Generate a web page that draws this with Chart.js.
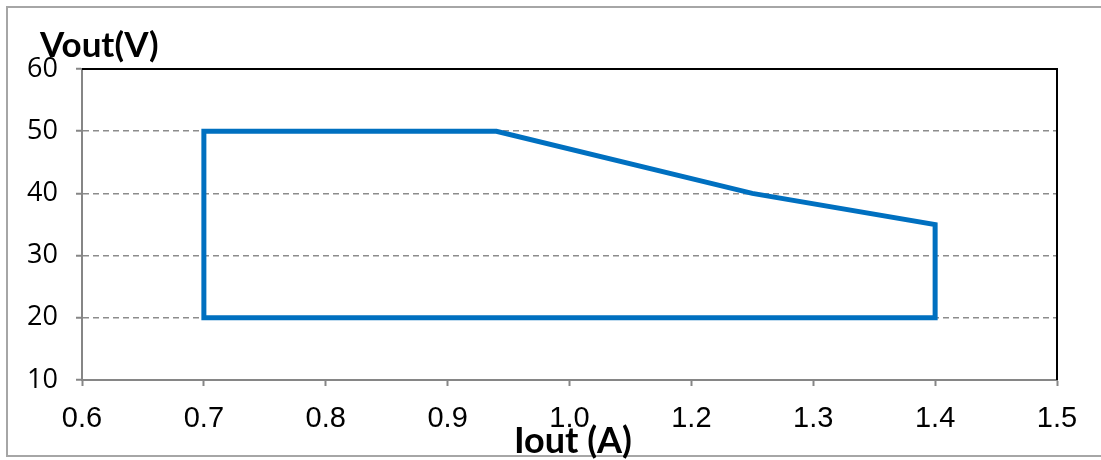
<!DOCTYPE html>
<html>
<head>
<meta charset="utf-8">
<script src="https://cdn.jsdelivr.net/npm/chart.js@4"></script>
<style>
  body { margin: 0; background: #fff; }
  canvas { display: block; }
</style>
</head>
<body>
<canvas id="chart" width="1101" height="460"></canvas>
<script>
// operating area outline, x in axis units (axis ticks are relabelled below)
const iout = [0.7, 0.7, 0.94, 1.15, 1.3, 1.3, 0.7];
const vout = [20, 50, 50, 40, 35, 20, 20];
const xTickLabels = ['0.6', '0.7', '0.8', '0.9', '1.0', '1.2', '1.3', '1.4', '1.5'];
const yTicks = [10, 20, 30, 40, 50, 60];

const points = iout.map((x, i) => ({ x: x, y: vout[i] }));

// frame, top/right plot border, axis titles
const decorations = {
  id: 'decorations',
  afterDraw(chart) {
    const ctx = chart.ctx;
    const area = chart.chartArea;
    ctx.save();

    // clipped "10" label like the original
    ctx.fillStyle = '#fff';
    ctx.fillRect(10, 389, 60, 10);

    ctx.strokeStyle = '#000';
    ctx.lineWidth = 2;
    ctx.beginPath();
    ctx.moveTo(area.left, area.top);
    ctx.lineTo(area.right, area.top);
    ctx.lineTo(area.right, area.bottom);
    ctx.stroke();

    ctx.strokeStyle = '#a6a6a6';
    ctx.lineWidth = 2;
    ctx.beginPath();
    ctx.moveTo(1101, 7);
    ctx.lineTo(7, 7);
    ctx.lineTo(7, 456);
    ctx.lineTo(1101, 456);
    ctx.stroke();

    ctx.fillStyle = '#000';
    ctx.font = 'bold 35px Lato';
    ctx.textBaseline = 'alphabetic';
    ctx.textAlign = 'left';
    ctx.fillText('Vout(V)', 40, 57);
    ctx.font = 'bold 36px Lato';
    ctx.textAlign = 'center';
    ctx.fillText('Iout (A)', 573, 453);
    ctx.restore();
  }
};

new Chart(document.getElementById('chart'), {
  type: 'scatter',
  data: {
    datasets: [{
      data: points,
      showLine: true,
      borderColor: '#0070C0',
      borderWidth: 5,
      borderJoinStyle: 'miter',
      borderCapStyle: 'square',
      pointRadius: 0,
      fill: false,
      tension: 0
    }]
  },
  options: {
    responsive: false,
    animation: false,
    layout: { padding: { top: 69, right: 44, left: 0, bottom: 0 } },
    plugins: {
      legend: { display: false },
      tooltip: { enabled: false }
    },
    scales: {
      x: {
        type: 'linear',
        min: 0.6,
        max: 1.4,
        afterBuildTicks: (scale) => {
          scale.ticks = xTickLabels.map((t, i) => ({ value: 0.6 + i * 0.1 }));
        },
        afterFit: (scale) => { scale.height = 80; },
        ticks: {
          color: '#000',
          font: { family: 'Liberation Sans', size: 29 },
          padding: 16,
          maxRotation: 0,
          autoSkip: false,
          callback: (value, index) => xTickLabels[index]
        },
        grid: {
          color: 'rgba(0,0,0,0)',
          tickColor: '#868686',
          tickLength: 6,
          tickWidth: 2
        },
        border: { color: '#868686', width: 2 }
      },
      y: {
        min: 10,
        max: 60,
        afterBuildTicks: (scale) => {
          scale.ticks = yTicks.map(v => ({ value: v }));
        },
        afterFit: (scale) => { scale.width = 82; },
        ticks: {
          color: '#000',
          font: { family: 'Open Sans', size: 27 },
          padding: 18
        },
        grid: {
          color: (c) => (c.tick && c.tick.value > 10 && c.tick.value < 60) ? '#8c8c8c' : 'rgba(0,0,0,0)',
          lineWidth: 1.5,
          tickColor: '#868686',
          tickLength: 6,
          tickWidth: 2,
          tickBorderDash: []
        },
        border: { color: '#868686', width: 2, dash: [6, 4] }
      }
    }
  },
  plugins: [decorations]
});
</script>
</body>
</html>
